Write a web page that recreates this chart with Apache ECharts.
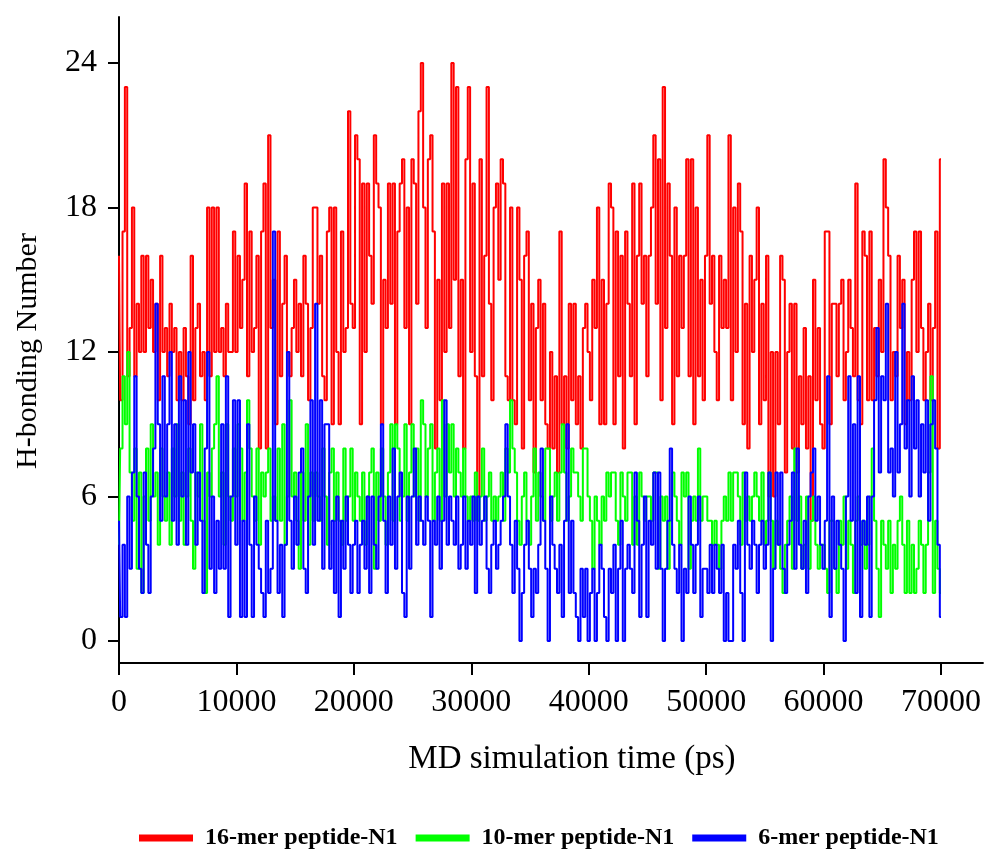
<!DOCTYPE html>
<html><head><meta charset="utf-8">
<script src="https://cdn.jsdelivr.net/npm/echarts@6/dist/echarts.min.js"></script>
<style>html,body{margin:0;padding:0;background:#fff}#c{width:984px;height:850px}</style>
</head><body><div id="c"></div>
<script>
const timeStep = 200; // ps between frames
const seriesNames = ['16-mer peptide-N1', '10-mer peptide-N1', '6-mer peptide-N1'];
const red16 = [
16,10,17,23,11,13,18,11,14,12, 16,12,16,13,15,12,14,10,16,12, 13,11,14,12,13,10,12,10,13,11, 9,16,10,13,14,11,12,10,18,11, 18,12,18,12,13,11,14,12,12,17,
12,16,13,15,19,11,17,12,13,16, 8,17,19,8,21,13,15,9,17,11, 14,16,12,11,13,15,12,14,11,16, 14,10,13,18,18,14,16,11,10,17, 18,9,18,12,9,17,12,13,22,14,
13,21,20,9,19,12,19,16,14,21, 19,18,9,15,13,19,14,19,9,17, 19,20,13,18,9,20,19,14,22,24, 18,13,20,21,17,8,15,10,19,12, 19,13,24,15,23,11,15,8,20,23,
12,19,11,6,20,11,16,23,14,10, 18,19,15,20,19,11,10,18,10,9, 18,15,8,16,17,10,14,7,13,15, 10,14,9,8,12,8,11,7,17,9, 11,8,14,10,14,9,11,8,13,14,
12,10,15,13,18,9,15,9,14,19, 18,9,17,11,16,8,17,14,11,19, 9,16,19,14,16,11,16,18,21,14, 20,10,23,13,19,16,9,18,11,16, 13,16,20,11,20,9,18,11,15,10,
16,21,14,16,12,10,16,13,15,13, 21,10,18,12,19,17,9,14,8,16, 12,15,18,9,14,10,16,6,12,6, 12,9,16,15,7,12,14,8,14,7, 11,9,13,8,11,5,15,10,13,9,
8,17,17,9,14,14,11,14,15,10, 12,15,13,11,19,10,9,17,16,10, 17,10,13,11,15,12,20,18,16,10, 12,11,16,13,15,9,12,10,15,17, 12,17,13,10,12,14,10,13,17,8,
20
];
const green10 = [
4,8,11,9,12,7,5,8,3,7, 2,6,8,5,9,6,7,4,8,6, 5,7,4,8,6,9,5,7,4,6, 8,5,3,7,6,9,5,2,7,6, 8,9,11,6,7,4,9,6,5,8,
6,9,8,5,7,10,8,6,5,8, 4,7,6,7,8,5,6,5,8,5, 9,4,6,10,6,7,5,3,7,5, 9,4,7,5,7,6,5,8,6,4, 7,8,5,7,5,4,8,5,6,8,
5,7,6,5,7,4,6,7,8,3, 7,5,8,6,4,7,9,5,9,8, 5,6,9,5,7,9,6,8,5,10, 9,6,8,9,5,7,8,5,10,6, 9,7,9,6,8,7,6,8,6,5,
6,5,7,5,6,8,5,6,7,5, 6,5,6,7,5,8,7,10,8,7, 5,4,6,7,5,4,6,8,5,7, 6,5,8,8,5,6,7,5,7,9, 7,5,6,8,7,7,6,5,8,8,
6,5,3,6,5,4,6,5,7,6, 7,7,5,4,7,6,5,7,7,4, 6,4,7,6,5,6,6,5,7,7, 3,6,5,6,3,5,7,6,5,4, 7,6,7,3,5,6,5,8,5,6,
6,5,5,4,5,4,3,5,6,5, 7,5,7,7,6,4,7,5,6,5, 6,7,6,5,7,4,5,7,5,3, 5,4,3,2,4,5,6,3,8,5, 6,3,4,6,3,5,6,4,3,4,
4,3,2,5,5,3,2,5,4,6, 3,5,4,2,5,6,4,5,3,4, 6,8,5,3,1,5,4,3,5,2, 4,3,5,6,4,2,5,2,4,2, 3,5,4,2,4,7,11,2,5,3,
2
];
const blue6 = [
5,1,4,1,6,3,7,11,6,3, 2,7,4,2,6,8,14,9,5,11, 6,9,12,5,9,4,11,6,10,4, 12,7,9,4,7,5,2,8,12,3, 6,2,5,3,9,3,11,1,6,10,
4,10,1,5,1,9,4,1,6,4, 3,2,1,5,2,3,17,5,2,4, 1,4,12,5,3,6,4,7,8,3, 2,6,10,4,14,5,10,3,9,9, 3,5,2,6,1,5,3,6,4,2,
4,5,2,4,5,3,6,2,6,4, 3,6,9,5,2,6,4,8,3,6, 7,2,1,6,3,6,8,4,6,5, 4,6,5,1,5,4,6,3,5,10, 4,6,5,4,6,3,4,6,3,5,
4,6,2,6,4,5,6,3,2,4, 5,3,4,5,6,9,6,4,2,5, 3,0,2,4,5,3,1,3,2,4, 8,5,3,0,6,4,3,2,4,1, 5,9,2,5,2,1,0,3,1,3,
0,2,3,0,2,4,3,1,0,3, 2,4,0,3,5,0,3,4,3,2, 7,5,1,4,6,1,5,4,7,3, 7,3,0,3,5,8,4,3,2,4, 0,3,2,6,4,2,4,6,1,3,
3,2,4,2,4,3,2,4,0,2, 0,0,4,3,5,2,0,7,4,3, 5,4,2,4,5,3,4,7,0,3, 7,4,7,3,2,4,5,7,3,8, 4,3,5,2,6,7,8,5,6,4,
3,5,11,1,6,3,5,4,3,0, 6,11,5,9,2,11,1,5,4,6, 1,6,10,13,7,11,10,14,7,8, 6,12,7,9,14,8,10,6,11,8, 10,6,9,7,10,5,9,10,8,4,
1
];
const xTicks = [0, 10000, 20000, 30000, 40000, 50000, 60000, 70000];
const yTicks = [0, 6, 12, 18, 24];

const times = red16.map((_, i) => i * timeStep);
const pairs = vals => vals.map((v, i) => [times[i], v]);
const FONT = 'Liberation Serif';
const colors = ['#ff0000', '#00ff00', '#0000ff'];
const allVals = [red16, green10, blue6];

const chart = echarts.init(document.getElementById('c'), null, {renderer: 'canvas'});
chart.setOption({
  animation: false,
  backgroundColor: '#fff',
  grid: {left: 119, right: 0, top: 17, bottom: 187, containLabel: false},
  xAxis: {
    type: 'value', min: 0, max: 73570,
    name: 'MD simulation time (ps)', nameLocation: 'middle', nameGap: 80,
    nameTextStyle: {fontFamily: FONT, fontSize: 33, color: '#000', padding: [0, 0, 0, 42]},
    axisLine: {onZero: false, lineStyle: {color: '#000', width: 2}},
    axisTick: {customValues: xTicks, length: 12, lineStyle: {color: '#000', width: 2}},
    axisLabel: {customValues: xTicks, margin: 24, fontFamily: FONT, fontSize: 32, color: '#000',
                formatter: v => String(v)},
    splitLine: {show: false}
  },
  yAxis: {
    type: 'value', min: -0.91, max: 25.91,
    name: 'H-bonding Number', nameLocation: 'middle', nameGap: 76,
    nameTextStyle: {fontFamily: FONT, fontSize: 30, color: '#000', padding: [0, 22, 0, 0]},
    axisLine: {show: true, onZero: false, lineStyle: {color: '#000', width: 2}},
    axisTick: {show: true, customValues: yTicks, length: 11, lineStyle: {color: '#000', width: 2}},
    axisLabel: {customValues: yTicks, margin: 22, fontFamily: FONT, fontSize: 32, color: '#000'},
    splitLine: {show: false}
  },
  legend: {
    left: 139, top: 826, padding: 0, icon: 'rect', itemWidth: 54, itemHeight: 7, itemGap: 18,
    data: seriesNames,
    textStyle: {fontFamily: FONT, fontSize: 24, fontWeight: 'bold', color: '#000', padding: [0, 0, 0, 7]}
  },
  series: seriesNames.map((n, k) => ({
    name: n, type: 'line', data: pairs(allVals[k]), showSymbol: false, symbol: 'none', step: 'middle',
    color: colors[k], lineStyle: {color: colors[k], width: 2}, z: 2 + k
  }))
});
</script>
</body></html>
